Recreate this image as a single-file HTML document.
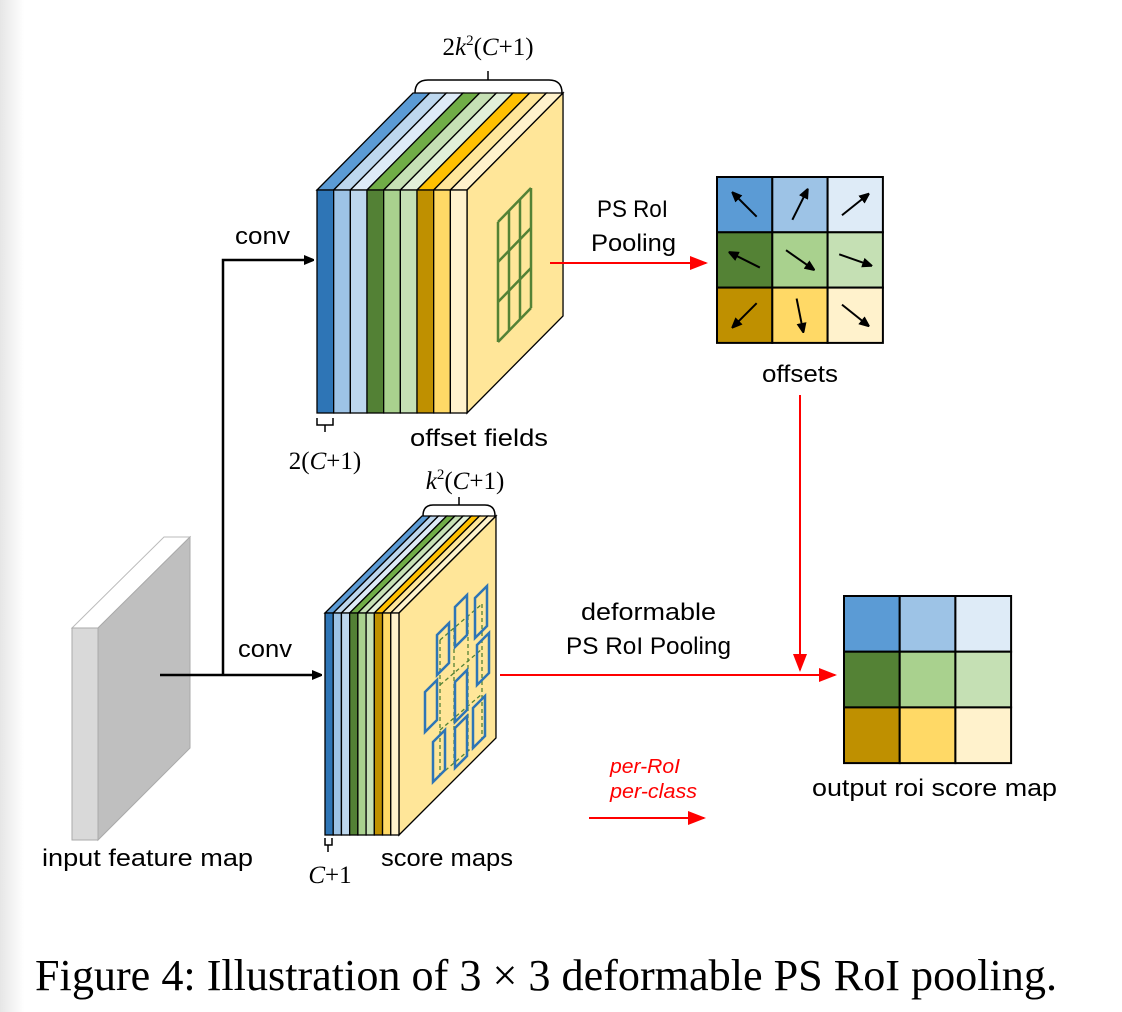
<!DOCTYPE html>
<html><head><meta charset="utf-8"><style>
html,body{margin:0;padding:0;background:#fff}
svg{display:block}
text{font-family:"Liberation Sans","DejaVu Sans",sans-serif}
.serif{font-family:"Liberation Serif",serif}
</style></head><body>
<svg id="fig" width="1122" height="1012" viewBox="0 0 1122 1012" xmlns="http://www.w3.org/2000/svg">
<defs>
<linearGradient id="lg" x1="0" x2="1"><stop offset="0" stop-color="#e6e6e6"/><stop offset="1" stop-color="#fff"/></linearGradient>
<marker id="ab" markerWidth="10" markerHeight="10" refX="9" refY="5" orient="auto" markerUnits="userSpaceOnUse"><path d="M0,0 L12,5 L0,10z" fill="#000"/></marker>
<marker id="ar" markerWidth="18" markerHeight="14" refX="16" refY="7" orient="auto" markerUnits="userSpaceOnUse"><path d="M0,0 L18,7 L0,14z" fill="#f00"/></marker>
</defs>
<rect x="0" y="0" width="24" height="1012" fill="url(#lg)"/>

<g>
<polygon points="72,628 164,537 190,537 98,628" fill="#fff" stroke="#bbb" stroke-width="1"/>
<polygon points="98,628 190,537 190,748 98,840" fill="#bfbfbf" stroke="#aaa" stroke-width="1"/>
<rect x="72" y="628" width="26" height="212" fill="#d9d9d9" stroke="#aaa" stroke-width="1"/>
</g>
<text x="42" y="866" font-size="24" textLength="211" lengthAdjust="spacingAndGlyphs">input feature map</text>

<g stroke="#000" stroke-width="2.5" fill="none">
<line x1="160" y1="675" x2="321" y2="675" marker-end="url(#ab)"/>
<polyline points="223,675 223,260 313,260" marker-end="url(#ab)"/>
</g>
<text x="235" y="244" font-size="24" textLength="55" lengthAdjust="spacingAndGlyphs">conv</text>
<text x="238" y="657" font-size="24" textLength="54" lengthAdjust="spacingAndGlyphs">conv</text>

<g id="topStack"></g>
<g id="botStack"></g>

<g stroke="#548235" stroke-width="2.5" fill="none" id="greenGrid"></g>
<g id="blueBins"></g>

<g stroke="#000" stroke-width="1.5" fill="none">
<path d="M415,93 Q415,80 428,80 L549,80 Q562,80 562,93"/><line x1="488" y1="80" x2="488" y2="71"/>
<path d="M423,516 Q423,505 433,505 L485,505 Q495,505 495,516"/><line x1="459" y1="505" x2="459" y2="497"/>
<path d="M317,418 L317,425 L333,425 L333,418"/><line x1="325" y1="425" x2="325" y2="432"/>
<path d="M325,838 L325,845 L332,845 L332,838"/><line x1="328" y1="845" x2="328" y2="852"/>
</g>
<text class="serif" x="488" y="55" font-size="25" text-anchor="middle">2<tspan font-style="italic">k</tspan><tspan font-size="15" dy="-10">2</tspan><tspan dy="10">(</tspan><tspan font-style="italic">C</tspan>+1)</text>
<text class="serif" x="465" y="489" font-size="25" text-anchor="middle"><tspan font-style="italic">k</tspan><tspan font-size="15" dy="-10">2</tspan><tspan dy="10">(</tspan><tspan font-style="italic">C</tspan>+1)</text>
<text class="serif" x="325" y="469" font-size="25" text-anchor="middle">2(<tspan font-style="italic">C</tspan>+1)</text>
<text class="serif" x="330" y="883" font-size="25" text-anchor="middle"><tspan font-style="italic">C</tspan>+1</text>
<text x="410" y="446" font-size="24" textLength="138" lengthAdjust="spacingAndGlyphs">offset fields</text>
<text x="381" y="866" font-size="24" textLength="132" lengthAdjust="spacingAndGlyphs">score maps</text>

<g stroke="#f00" stroke-width="2" fill="none">
<line x1="550" y1="263" x2="706" y2="263" marker-end="url(#ar)"/>
<line x1="800" y1="395" x2="800" y2="670" marker-end="url(#ar)"/>
<line x1="500" y1="675" x2="835" y2="675" marker-end="url(#ar)"/>
<line x1="589" y1="818" x2="704" y2="818" marker-end="url(#ar)"/>
</g>
<text x="597" y="217" font-size="24" textLength="71" lengthAdjust="spacingAndGlyphs">PS RoI</text>
<text x="591" y="251" font-size="24" textLength="85" lengthAdjust="spacingAndGlyphs">Pooling</text>
<text x="581" y="620" font-size="24" textLength="135" lengthAdjust="spacingAndGlyphs">deformable</text>
<text x="566" y="654" font-size="24" textLength="165" lengthAdjust="spacingAndGlyphs">PS RoI Pooling</text>
<text x="610" y="773" font-size="20" font-style="italic" fill="#f00" textLength="70" lengthAdjust="spacingAndGlyphs">per-RoI</text>
<text x="610" y="798" font-size="20" font-style="italic" fill="#f00" textLength="87" lengthAdjust="spacingAndGlyphs">per-class</text>

<g id="offGrid"></g>
<text x="762" y="382" font-size="24" textLength="76" lengthAdjust="spacingAndGlyphs">offsets</text>
<g id="outGrid"></g>
<text x="812" y="796" font-size="24" textLength="245" lengthAdjust="spacingAndGlyphs">output roi score map</text>

<text class="serif" x="35" y="990" font-size="44" textLength="1022" lengthAdjust="spacingAndGlyphs">Figure 4: Illustration of 3 × 3 deformable PS RoI pooling.</text>
</svg>
<script>
const NS='http://www.w3.org/2000/svg';
const frontColors=['#2E75B6','#9DC3E6','#BDD7EE','#538135','#A9D18E','#C5E0B4','#BF9000','#FFD966','#FFF2CC'];
const topColors=['#5B9BD5','#BDD7EE','#DEEBF7','#70AD47','#C5E0B4','#E2F0D9','#FFC000','#FFE699','#FFF2CC'];
const gridColors=['#5B9BD5','#9DC3E6','#DEEBF7','#548235','#A9D18E','#C5E0B4','#BF9000','#FFD966','#FFF2CC'];
const arrowVecs=[[-1,-1],[0.5,-1],[1,-0.8],[-1,-0.5],[1,0.7],[1,0.35],[-1,1],[0.2,1],[1,0.8]];
const bins=[[437,675],[455,647],[475,638],[425,732],[455,722],[477,685],[433,782],[455,768],[473,748]];
function mk(tag,attrs,parent){const e=document.createElementNS(NS,tag);for(const k in attrs)e.setAttribute(k,attrs[k]);parent.appendChild(e);return e;}
function stack(g,x0,y0,w,h,dx,dy){
  const n=frontColors.length;
  for(let i=0;i<n;i++){
    const x=x0+i*w;
    const t=mk('polygon',{points:`${x},${y0} ${x+dx},${y0+dy} ${x+w+dx},${y0+dy} ${x+w},${y0}`,fill:topColors[i],stroke:'#000','stroke-width':1.3},g);
    
    
  }
  const xe=x0+n*w;
  const s=mk('polygon',{points:`${xe},${y0} ${xe+dx},${y0+dy} ${xe+dx},${y0+h+dy} ${xe},${y0+h}`,fill:'#FFE699',stroke:'#000','stroke-width':1.3},g);
  
  
  for(let i=0;i<n;i++){
    const r=mk('rect',{x:x0+i*w,y:y0,width:w,height:h,fill:frontColors[i],stroke:'#000','stroke-width':1.3},g);
    
    
  }
}
stack(document.getElementById('topStack'),317,190,16.67,223,96,-97);
stack(document.getElementById('botStack'),325,613,8.22,222,97,-97);
const gg=document.getElementById('greenGrid');
const gx0=498,gx1=531,gyl=222,gyr=188,gh=120;
for(let i=0;i<=3;i++){
  const x=gx0+(gx1-gx0)*i/3, y=gyl+(gyr-gyl)*i/3;
  mk('line',{x1:x,y1:y,x2:x,y2:y+gh},gg);
  const yy=gh*i/3;
  mk('line',{x1:gx0,y1:gyl+yy,x2:gx1,y2:gyr+yy},gg);
}
const bb=document.getElementById('blueBins');
const dg=mk('g',{stroke:'#548235','stroke-width':1.3,'stroke-dasharray':'4,3',fill:'none'},bb);
for(let i=0;i<=3;i++){
  const x=440+14*i,y=640-12*i;
  mk('line',{x1:x,y1:y,x2:x,y2:y+135},dg);
  mk('line',{x1:440,y1:640+45*i,x2:482,y2:604+45*i},dg);
}
bins.forEach((b,i)=>{
  const [x,y]=b;
  const p=mk('polygon',{points:`${x},${y} ${x},${y-40} ${x+12},${y-52} ${x+12},${y-12}`,fill:'none',stroke:'#2E75B6','stroke-width':2.5},bb);
  
  
});
function grid(g,x0,y0,cell,arrows){
  for(let i=0;i<9;i++){
    const r=Math.floor(i/3),c=i%3;
    const x=x0+c*cell,y=y0+r*cell;
    const rc=mk('rect',{x,y,width:cell,height:cell,fill:gridColors[i],stroke:'#000','stroke-width':2},g);
    
    
    if(arrows){
      const [vx,vy]=arrowVecs[i];const L=Math.hypot(vx,vy);const s=17/L;
      const cx=x+cell/2,cy=y+cell/2;
      const ln=mk('line',{x1:cx-vx*s,y1:cy-vy*s,x2:cx+vx*s,y2:cy+vy*s,stroke:'#000','stroke-width':2,'marker-end':'url(#ab)'},g);
      
      
    }
  }
}
grid(document.getElementById('offGrid'),717,177,55.3,true);
grid(document.getElementById('outGrid'),844,596,55.7,false);
</script>
</body></html>
